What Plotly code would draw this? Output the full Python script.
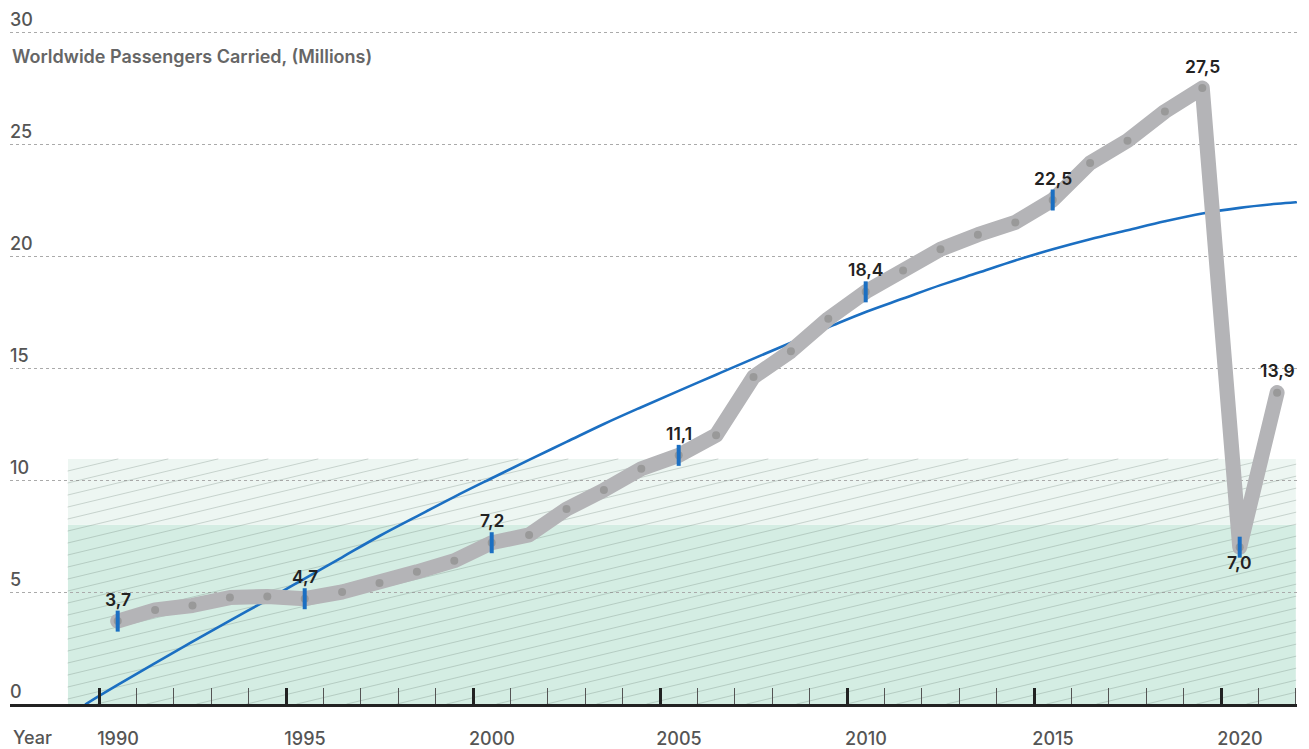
import plotly.graph_objects as go

# ---------------- data ----------------
years = list(range(1990, 2022))
passengers = [3.7, 4.2, 4.4, 4.75, 4.8, 4.7, 5.0, 5.4, 5.9, 6.4,
              7.2, 7.55, 8.7, 9.55, 10.5, 11.1, 12.0, 14.6, 15.75, 17.2,
              18.4, 19.35, 20.3, 20.95, 21.5, 22.5, 24.15, 25.15, 26.45, 27.5,
              7.0, 13.9]

label_years = [1990, 1995, 2000, 2005, 2010, 2015, 2019, 2020, 2021]
label_texts = ["3,7", "4,7", "7,2", "11,1", "18,4", "22,5", "27,5", "7,0", "13,9"]
marker_years = [1990, 1995, 2000, 2005, 2010, 2015, 2020]

# trend curve, positions on the year axis
trend_x = [1989.65] + [y + 0.5 for y in range(1990, 2022)] + [2022.0]
trend_y = [0.0, 0.85, 1.82, 2.78, 3.72, 4.65, 5.6, 6.55, 7.5, 8.38, 9.25,
           10.08, 10.9, 11.7, 12.5, 13.25, 13.98, 14.7, 15.42, 16.13, 16.82,
           17.5, 18.1, 18.7, 19.25, 19.8, 20.3, 20.75, 21.15, 21.55, 21.9,
           22.15, 22.33, 22.4]

y_ticks = [0, 5, 10, 15, 20, 25, 30]
x_major = [1990, 1995, 2000, 2005, 2010, 2015, 2020]
x_minor = [y for y in range(1991, 2023) if y % 5 != 0]

band_x = [1989.17, 2022.0]
band_dark = [0, 8.0]
band_light = [8.0, 10.94]

# ---------------- geometry helpers ----------------
W, H = 1309, 749
PX_YEAR = 37.4
PX_UNIT = 22.4
PL, PR = 10, 1297
X0_PX = 99          # pixel of year 1990 boundary
Y0_PX = 704         # pixel of value 0
xl = 1990 - (X0_PX - PL) / PX_YEAR
xr = 1990 + (PR - X0_PX) / PX_YEAR
ytop = Y0_PX / PX_UNIT

pos = [y + 0.5 for y in years]
val = dict(zip(years, passengers))

# hatch lines over the bands
s = 0.24 * PX_YEAR / PX_UNIT
gap = 12 / PX_UNIT
hx, hy = [], []
bx0, bx1 = band_x
by0, by1 = band_dark[0], band_light[1]
c = by1
cmin = by0 - s * (bx1 - bx0)
while c > cmin:
    xa = bx0 + (by0 - c) / s
    xb = bx0 + (by1 - c) / s
    xs, xe = max(bx0, xa), min(bx1, xb)
    if xs < xe:
        hx += [xs, xe, None]
        hy += [c + s * (xs - bx0), c + s * (xe - bx0), None]
    c -= gap

BLUE = "#1b6fc2"
GRAY = "#b4b4b7"
FONT = "Inter"

fig = go.Figure()

fig.add_trace(go.Scatter(x=hx, y=hy, mode="lines",
                         line=dict(color="rgba(110,130,120,0.3)", width=1),
                         hoverinfo="skip", showlegend=False))

fig.add_trace(go.Scatter(x=trend_x, y=trend_y, mode="lines",
                         line=dict(color=BLUE, width=2.6, shape="spline"),
                         hoverinfo="skip", showlegend=False))

fig.add_trace(go.Scatter(x=pos, y=passengers, mode="lines",
                         line=dict(color=GRAY, width=15),
                         showlegend=False))

fig.add_trace(go.Scatter(x=pos, y=passengers, mode="markers",
                         marker=dict(color="#999999", size=8),
                         showlegend=False))

fig.add_trace(go.Scatter(x=[y + 0.5 for y in marker_years],
                         y=[val[y] for y in marker_years], mode="markers",
                         marker=dict(symbol="line-ns", size=15,
                                     line=dict(color=BLUE, width=4)),
                         showlegend=False))

# bands
fig.add_shape(type="rect", xref="x", yref="y", x0=band_x[0], x1=band_x[1],
              y0=band_dark[0], y1=band_dark[1], fillcolor="#d4ede3",
              line=dict(width=0), layer="below")
fig.add_shape(type="rect", xref="x", yref="y", x0=band_x[0], x1=band_x[1],
              y0=band_light[0], y1=band_light[1], fillcolor="#edf6f2",
              line=dict(width=0), layer="below")

# data labels
for yr, t in zip(label_years, label_texts):
    below = yr == 2020
    fig.add_annotation(x=yr + 0.5, y=val[yr], text=t, showarrow=False,
                       yshift=-15 if below else 22,
                       font=dict(family=FONT, size=17.5, color="#222222", weight=600))

fig.add_annotation(xref="paper", yref="y", x=0, y=(Y0_PX - 56) / PX_UNIT,
                   xanchor="left", yanchor="middle", showarrow=False,
                   text="Worldwide Passengers Carried, (Millions)",
                   font=dict(family=FONT, size=18, color="#666666", weight=600))
fig.add_annotation(xref="paper", yref="paper", x=1 / (PR - PL),
                   y=-(737 - Y0_PX) / Y0_PX, xanchor="left", yanchor="middle",
                   showarrow=False, text="Year",
                   font=dict(family=FONT, size=18, color="#555555", weight=500))

fig.update_xaxes(range=[xl, xr], tickmode="array", tickvals=x_major,
                 ticktext=[str(v) for v in x_major], ticks="inside", ticklen=16,
                 tickwidth=2.5, tickcolor="#222222", showgrid=False,
                 zeroline=False, showline=True, linecolor="#222222", linewidth=3,
                 ticklabelshift=int(round(PX_YEAR / 2)), ticklabelstandoff=16,
                 tickfont=dict(family=FONT, size=18, color="#555555", weight=500),
                 minor=dict(tickmode="array", tickvals=x_minor, ticks="inside",
                            ticklen=16, tickwidth=1.3, tickcolor="#555555",
                            showgrid=False))
fig.update_yaxes(range=[0, ytop], tickmode="array", tickvals=y_ticks,
                 ticktext=[str(v) for v in y_ticks], ticks="",
                 ticklabelposition="inside top", showgrid=True, griddash="dot",
                 gridcolor="#aaaaaa", gridwidth=1, zeroline=False, showline=False,
                 ticklabelstandoff=-3,
                 tickfont=dict(family=FONT, size=18, color="#555555", weight=500))

fig.update_layout(width=W, height=H, margin=dict(l=PL, r=W - PR, t=0, b=H - Y0_PX),
                  paper_bgcolor="white", plot_bgcolor="white", showlegend=False,
                  hovermode=False)

post = ("document.body.style.margin='0';"
        "var s=document.createElement('style');"
        "s.textContent='.scatterlayer .js-line{stroke-linejoin:round;stroke-linecap:round;}';"
        "document.head.appendChild(s);")
fig.write_html("out.html", post_script=post)
